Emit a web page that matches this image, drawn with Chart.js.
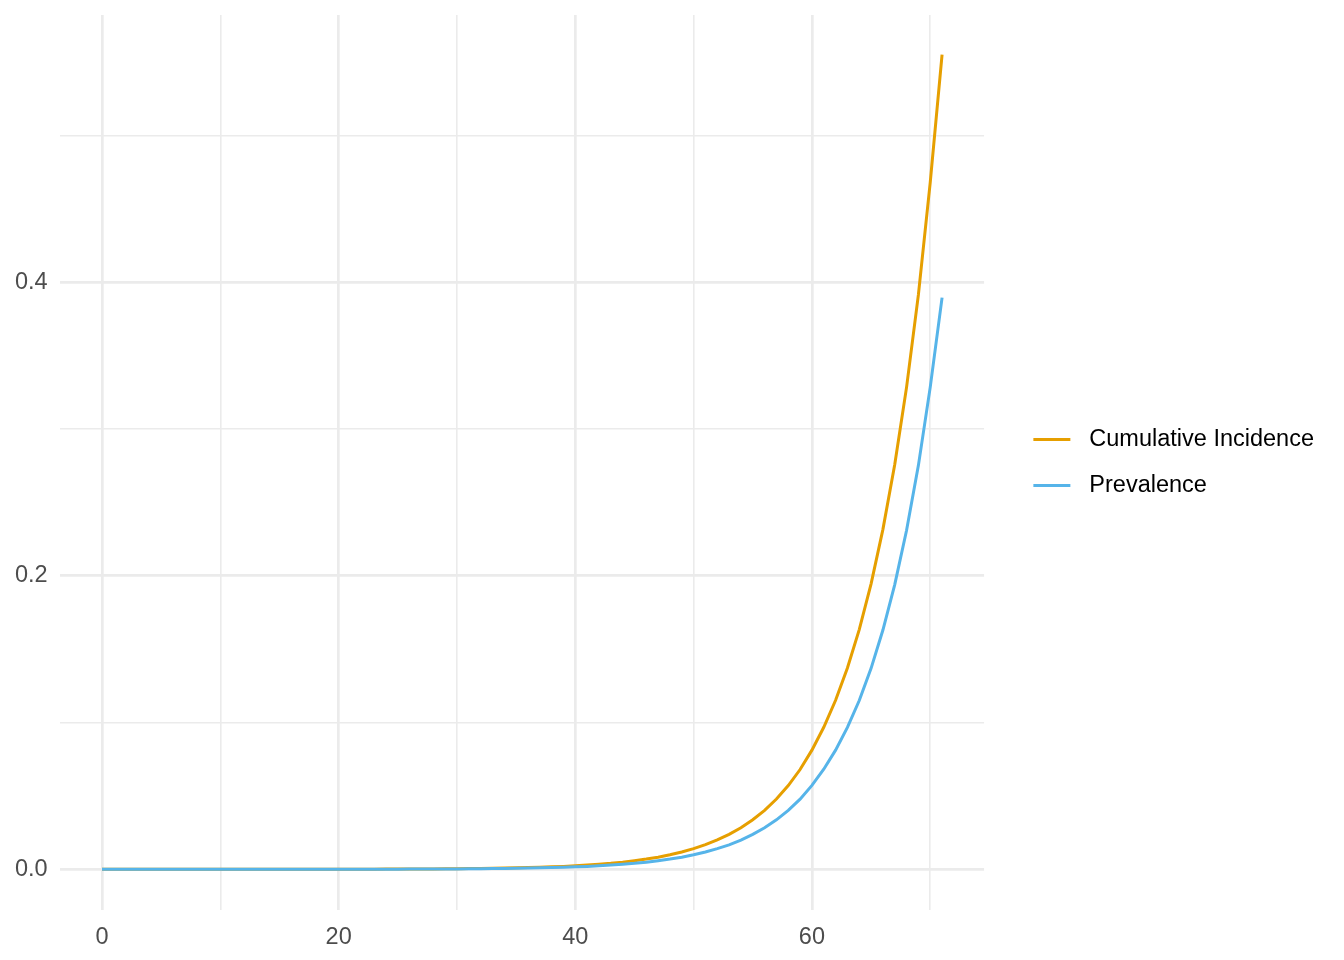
<!DOCTYPE html>
<html>
<head>
<meta charset="utf-8">
<script src="https://cdn.jsdelivr.net/npm/chart.js@4.4.1/dist/chart.umd.min.js"></script>
<style>
  html, body { margin: 0; padding: 0; background: #fff; }
  canvas { display: block; }
</style>
</head>
<body>
<canvas id="grafico" width="1344" height="960"></canvas>
<script>
// datos
const edades = [];
for (let i = 0; i <= 71; i++) edades.push(i);

const incidencia = [
  0.00000, 0.00000, 0.00000, 0.00001, 0.00001, 0.00001, 0.00001, 0.00001, 0.00001, 0.00001,
  0.00001, 0.00002, 0.00002, 0.00002, 0.00003, 0.00003, 0.00004, 0.00004, 0.00005, 0.00006,
  0.00007, 0.00009, 0.00011, 0.00013, 0.00015, 0.00018, 0.00021, 0.00025, 0.00030, 0.00036,
  0.00043, 0.00051, 0.00060, 0.00072, 0.00086, 0.0010, 0.0012, 0.0014, 0.0017, 0.0020,
  0.0024, 0.0029, 0.0035, 0.0041, 0.0049, 0.0059, 0.0070, 0.0083, 0.0099, 0.0118,
  0.0141, 0.0168, 0.0200, 0.0238, 0.0283, 0.0338, 0.0402, 0.0479, 0.0571, 0.0680,
  0.0812, 0.0968, 0.1152, 0.1372, 0.1633, 0.1945, 0.2316, 0.2758, 0.3285, 0.3915,
  0.4680, 0.5550
];

const prevalencia = [
  0.00000, 0.00000, 0.00000, 0.00000, 0.00001, 0.00001, 0.00001, 0.00001, 0.00001, 0.00001,
  0.00001, 0.00001, 0.00001, 0.00002, 0.00002, 0.00002, 0.00003, 0.00003, 0.00004, 0.00004,
  0.00005, 0.00006, 0.00007, 0.00009, 0.00010, 0.00012, 0.00015, 0.00018, 0.00021, 0.00025,
  0.00030, 0.00036, 0.00042, 0.00051, 0.00060, 0.00071, 0.00085, 0.0010, 0.0012, 0.0014,
  0.0017, 0.0020, 0.0024, 0.0029, 0.0035, 0.0041, 0.0049, 0.0059, 0.0070, 0.0083,
  0.0099, 0.0118, 0.0141, 0.0167, 0.0199, 0.0238, 0.0283, 0.0337, 0.0402, 0.0478,
  0.0572, 0.0682, 0.0812, 0.0967, 0.1150, 0.1369, 0.1630, 0.1940, 0.2310, 0.2752,
  0.3285, 0.3895
];

const series = ['Cumulative Incidence', 'Prevalence'];
const xTicks = [0, 10, 20, 30, 40, 50, 60, 70];
const xMayores = [0, 20, 40, 60];
const yTicks = [0, 0.1, 0.2, 0.3, 0.4, 0.5];
const yMayores = [0, 0.2, 0.4];

const colores = ['#E69F00', '#56B4E9'];
const FUENTE = '"Liberation Sans", Arial, Helvetica, sans-serif';
const GRIS = '#EBEBEB';

// clave de leyenda: linea corta a la izquierda de un lienzo mas ancho
function claveLinea(col) {
  const c = document.createElement('canvas');
  c.width = 70; c.height = 3;
  const g = c.getContext('2d');
  g.fillStyle = col;
  g.fillRect(26, 0, 37, 3);
  return c;
}
const claves = colores.map(claveLinea);

const puntos = vals => edades.map((e, i) => ({ x: e, y: vals[i] }));

new Chart(document.getElementById('grafico'), {
  type: 'line',
  data: {
    datasets: [
      { label: series[0], data: puntos(incidencia), borderColor: colores[0], backgroundColor: colores[0],
        borderWidth: 3, pointRadius: 0, tension: 0, order: 1 },
      { label: series[1], data: puntos(prevalencia), borderColor: colores[1], backgroundColor: colores[1],
        borderWidth: 3, pointRadius: 0, tension: 0, order: 0 }
    ]
  },
  options: {
    responsive: false,
    animation: false,
    layout: { padding: { top: 15, bottom: 0, left: 15, right: 20 } },
    scales: {
      x: {
        type: 'linear', min: -3.55, max: 74.55,
        afterBuildTicks: s => { s.ticks = xTicks.map(v => ({ value: v })); },
        afterFit: s => { s.height = 50; },
        border: { display: false },
        grid: { color: GRIS, drawTicks: false, lineWidth: c => xMayores.includes(c.tick.value) ? 2.7 : 1.6 },
        ticks: { autoSkip: false, maxRotation: 0, padding: 13, color: '#4D4D4D',
                 font: { family: FUENTE, size: 23.5 },
                 callback: v => xMayores.includes(v) ? String(v) : '' }
      },
      y: {
        type: 'linear', min: -0.0277, max: 0.582,
        afterBuildTicks: s => { s.ticks = yTicks.map(v => ({ value: v })); },
        afterFit: s => { s.width = 45; },
        border: { display: false },
        grid: { color: GRIS, drawTicks: false, lineWidth: c => yMayores.includes(c.tick.value) ? 2.7 : 1.6 },
        ticks: { padding: 0, crossAlign: 'far', color: '#4D4D4D',
                 font: { family: FUENTE, size: 23.5 },
                 callback: v => yMayores.includes(v) ? v.toFixed(1) : '' }
      }
    },
    plugins: {
      tooltip: { enabled: false },
      legend: {
        position: 'right',
        fullSize: false,
        maxWidth: 400,
        labels: {
          usePointStyle: true,
          pointStyleWidth: 70.5,
          padding: 23,
          color: '#000',
          font: { family: FUENTE, size: 23.5 },
          sort: (a, b) => a.datasetIndex - b.datasetIndex,
          generateLabels: ch => Chart.defaults.plugins.legend.labels.generateLabels(ch)
            .map(l => Object.assign(l, { pointStyle: claves[l.datasetIndex] }))
        }
      }
    }
  }
});
</script>
</body>
</html>
